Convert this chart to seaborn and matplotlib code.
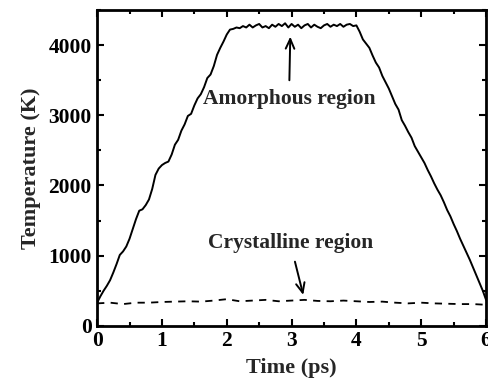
import matplotlib
matplotlib.use("Agg")
import matplotlib.pyplot as plt
import seaborn as sns
import pandas as pd

# Amorphous region temperature (K) vs time (ps)
amor_t = [0.00, 0.05, 0.10, 0.15, 0.20, 0.25, 0.30, 0.35, 0.40, 0.45, 0.50, 0.55, 0.60, 0.65, 0.70,
          0.75, 0.80, 0.85, 0.90, 0.95, 1.00, 1.05, 1.10, 1.15, 1.20, 1.25, 1.30, 1.35, 1.40, 1.45,
          1.50, 1.55, 1.60, 1.65, 1.70, 1.75, 1.80, 1.85, 1.90, 1.95, 2.00, 2.05, 2.10, 2.15, 2.20,
          2.25, 2.30, 2.35, 2.40, 2.45, 2.50, 2.55, 2.60, 2.65, 2.70, 2.75, 2.80, 2.85, 2.90, 2.95,
          3.00, 3.05, 3.10, 3.15, 3.20, 3.25, 3.30, 3.35, 3.40, 3.45, 3.50, 3.55, 3.60, 3.65, 3.70,
          3.75, 3.80, 3.85, 3.90, 3.95, 4.00, 4.05, 4.10, 4.15, 4.20, 4.25, 4.30, 4.35, 4.40, 4.45,
          4.50, 4.55, 4.60, 4.65, 4.70, 4.75, 4.80, 4.85, 4.90, 4.95, 5.00, 5.05, 5.10, 5.15, 5.20,
          5.25, 5.30, 5.35, 5.40, 5.45, 5.50, 5.55, 5.60, 5.65, 5.70, 5.75, 5.80, 5.85, 5.90, 5.95,
          6.00]
amor_T = [330, 420, 500, 570, 650, 760, 880, 1010, 1060, 1130, 1240, 1380, 1520, 1640, 1660,
          1720, 1800, 1950, 2150, 2240, 2290, 2320, 2340, 2440, 2580, 2650, 2780, 2870, 2990, 3020,
          3140, 3240, 3300, 3400, 3530, 3580, 3700, 3860, 3960, 4050, 4150, 4220, 4230, 4250, 4240,
          4270, 4250, 4290, 4250, 4280, 4300, 4250, 4270, 4240, 4290, 4260, 4300, 4270, 4310, 4250,
          4300, 4260, 4290, 4240, 4280, 4300, 4250, 4290, 4260, 4240, 4280, 4300, 4260, 4290, 4270,
          4300, 4260, 4290, 4300, 4270, 4280, 4190, 4080, 4020, 3960, 3850, 3750, 3680, 3560, 3470,
          3380, 3270, 3160, 3080, 2930, 2850, 2760, 2680, 2560, 2480, 2400, 2320, 2220, 2130, 2030,
          1940, 1860, 1760, 1650, 1560, 1450, 1350, 1240, 1140, 1040, 940, 830, 720, 610, 500,
          370]

# Crystalline region temperature (K) vs time (ps)
crys_t = [0.0, 0.2, 0.4, 0.6, 0.8, 1.0, 1.2, 1.4, 1.6, 1.8, 2.0, 2.2, 2.4, 2.6, 2.8, 3.0,
          3.2, 3.4, 3.6, 3.8, 4.0, 4.2, 4.4, 4.6, 4.8, 5.0, 5.2, 5.4, 5.6, 5.8, 6.0]
crys_T = [320, 330, 310, 330, 330, 340, 345, 350, 345, 360, 380, 350, 360, 370, 350, 360,
          370, 355, 350, 360, 350, 340, 345, 330, 320, 330, 320, 315, 310, 310, 300]

amor_df = pd.DataFrame({"t": amor_t, "T": amor_T})
crys_df = pd.DataFrame({"t": crys_t, "T": crys_T})

sns.set_theme(style="ticks")
plt.rcParams["font.family"] = ["Liberation Serif", "DejaVu Serif"]
plt.rcParams["font.weight"] = "bold"

fig = plt.figure(figsize=(4.88, 3.82), dpi=100)
ax = fig.add_axes([0.199, 0.147, 0.797, 0.827])

sns.lineplot(data=amor_df, x="t", y="T", ax=ax, color="black", linewidth=1.4)
sns.lineplot(data=crys_df, x="t", y="T", ax=ax, color="black", linewidth=1.3,
             linestyle=(0, (4, 3.5)))

ax.set_xlim(0, 6)
ax.set_ylim(0, 4500)
ax.set_xticks([0, 1, 2, 3, 4, 5, 6])
ax.set_xticks([0.5, 1.5, 2.5, 3.5, 4.5, 5.5], minor=True)
ax.set_yticks([0, 1000, 2000, 3000, 4000])
ax.set_yticks([500, 1500, 2500, 3500, 4500], minor=True)
ax.tick_params(which="both", direction="in", top=True, right=True, width=1.5, colors="black",
               labelsize=15.5, pad=4)
ax.tick_params(which="major", length=5)
ax.tick_params(which="minor", length=3)
for lab in ax.get_xticklabels() + ax.get_yticklabels():
    lab.set_fontweight("bold")
for s in ax.spines.values():
    s.set_linewidth(2)
    s.set_color("black")
    s.set_visible(True)

ax.set_xlabel("Time (ps)", fontsize=16, fontweight="bold", labelpad=5)
ax.set_ylabel("Temperature (K)", fontsize=16, fontweight="bold", labelpad=5)

ax.annotate("Amorphous region", xy=(2.98, 4120), xytext=(2.96, 3230),
            ha="center", va="center", fontsize=15.5, fontweight="bold",
            arrowprops=dict(arrowstyle="->,head_length=0.45,head_width=0.2", color="black",
                            lw=1.4, shrinkA=4, shrinkB=0))
ax.annotate("Crystalline region", xy=(3.18, 440), xytext=(2.98, 1180),
            ha="center", va="center", fontsize=15.5, fontweight="bold",
            arrowprops=dict(arrowstyle="->,head_length=0.45,head_width=0.2", color="black",
                            lw=1.4, shrinkA=4, shrinkB=0))

fig.savefig("out.png", dpi=100)
